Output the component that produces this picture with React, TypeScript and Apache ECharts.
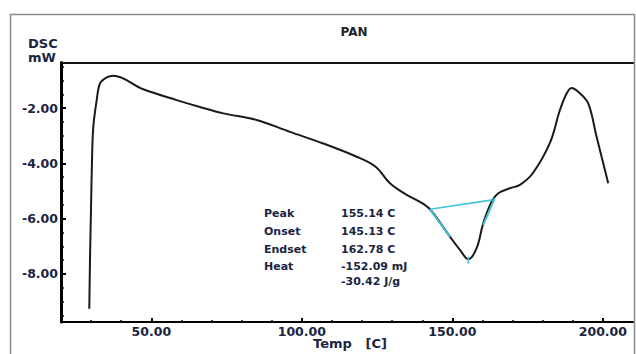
import React, { useEffect, useRef } from "react";
import * as echarts from "echarts";

// DSC curve: temperature [C] and heat flow [mW]
const tempC = [29.4, 29.63, 29.96, 30.3, 30.73, 31.86, 32.95, 35.18, 37.37, 47.33, 58.43, 66.16, 73.9, 84.99, 96.05, 107.11, 118.21, 124.5, 129.27, 134.81, 139.23, 142.55, 149.19, 152.51, 155.27, 158.06, 160.25, 163.04, 165.23, 169.12, 172.44, 176.76, 182.4, 185.73, 187.95, 189.61, 191.8, 195.12, 197.91, 201.77];
const dscMW = [-9.26, -7.49, -5.69, -3.88, -2.68, -1.71, -1.11, -0.89, -0.83, -1.32, -1.71, -1.96, -2.19, -2.43, -2.86, -3.28, -3.76, -4.12, -4.72, -5.14, -5.39, -5.66, -6.65, -7.13, -7.47, -7.07, -6.17, -5.39, -5.08, -4.9, -4.78, -4.35, -3.26, -2.07, -1.47, -1.27, -1.41, -1.83, -3.04, -4.72];

// analysis construction lines (cyan)
const baselineX = [142.55, 163.4];
const baselineY = [-5.66, -5.32];
const leftTangentX = [142.55, 149.19];
const leftTangentY = [-5.66, -6.66];
const rightTangentX = [160.25, 164.1];
const rightTangentY = [-6.23, -5.26];
const peakMarkX = [155.27, 155.27];
const peakMarkY = [-7.38, -7.62];

const xLabelValues = [50, 100, 150, 200];
const xMinorTicks = [30, 40, 60, 70, 80, 90, 110, 120, 130, 140, 160, 170, 180, 190];
const yLabelValues = [-8, -6, -4, -2];
const yMinorTicks = [-9.5, -9, -8.5, -7.5, -7, -6.5, -5.5, -5, -4.5, -3.5, -3, -2.5, -1.5, -1, -0.5];

const annLabels = ["Peak", "Onset", "Endset", "Heat"];
const annValues = ["155.14 C", "145.13 C", "162.78 C", "-152.09 mJ", "-30.42 J/g"];

const zip = (xs: number[], ys: number[]) => xs.map((x, i) => [x, ys[i]]);

const FONT = "DejaVu Sans";
const TXT = "#1b2440";

export default function App() {
  const ref = useRef<HTMLDivElement>(null);
  useEffect(() => {
    if (!ref.current) return;
    const chart = echarts.init(ref.current, undefined, { renderer: "svg" });
    const cyan = { color: "#45c3d6", width: 1.6 };
    const annText: any[] = [];
    annLabels.forEach((t, i) => {
      annText.push({ type: "text", left: 264, top: 208 + i * 17.8, style: { text: t, font: `bold 11px '${FONT}'`, fill: TXT } });
    });
    annValues.forEach((t, i) => {
      const top = i < 4 ? 208 + i * 17.8 : 208 + 3 * 17.8 + 14.5;
      annText.push({ type: "text", left: 341, top, style: { text: t, font: `bold 11px '${FONT}'`, fill: TXT } });
    });
    chart.setOption({
      animation: false,
      backgroundColor: "#fff",
      title: {
        text: "PAN",
        left: 349,
        top: 21,
        textAlign: "center",
        textStyle: { fontFamily: FONT, fontWeight: "bold", fontSize: 12, color: "#222" },
      },
      grid: { left: 61, right: 3, top: 62.5, bottom: 32, containLabel: false, outerBoundsMode: "none" },
      xAxis: [
        {
          type: "value",
          min: 20,
          max: 210,
          position: "bottom",
          axisLine: { show: true, lineStyle: { color: "#000", width: 2 } },
          axisTick: { show: true, inside: true, length: 2, customValues: xMinorTicks, lineStyle: { color: "#000", width: 1.5 } },
          axisLabel: {
            show: true,
            customValues: xLabelValues,
            formatter: (v: number) => v.toFixed(2),
            fontFamily: FONT,
            fontWeight: "bold",
            fontSize: 12.5,
            color: TXT,
            margin: 3,
          },
          splitLine: { show: false },
        },
        {
          type: "value",
          min: 20,
          max: 210,
          position: "bottom",
          axisLine: { show: false },
          axisTick: { show: true, inside: true, length: 4, customValues: xLabelValues, lineStyle: { color: "#000", width: 2 } },
          axisLabel: { show: false },
          splitLine: { show: false },
        },
        {
          type: "value",
          min: 20,
          max: 210,
          position: "top",
          axisLine: { show: true, lineStyle: { color: "#111", width: 2 } },
          axisTick: { show: false },
          axisLabel: { show: false },
          splitLine: { show: false },
        },
      ],
      yAxis: [
        {
          type: "value",
          min: -9.74,
          max: -0.35,
          position: "left",
          axisLine: { show: true, lineStyle: { color: "#000", width: 3 } },
          axisTick: { show: true, inside: true, length: 3, customValues: yMinorTicks, lineStyle: { color: "#000", width: 1.5 } },
          axisLabel: {
            show: true,
            customValues: yLabelValues,
            formatter: (v: number) => v.toFixed(2),
            fontFamily: FONT,
            fontWeight: "bold",
            fontSize: 12.5,
            color: TXT,
            margin: 3,
          },
          splitLine: { show: false },
        },
        {
          type: "value",
          min: -9.74,
          max: -0.35,
          position: "left",
          axisLine: { show: false },
          axisTick: { show: true, inside: true, length: 5, customValues: yLabelValues, lineStyle: { color: "#000", width: 2 } },
          axisLabel: { show: false },
          splitLine: { show: false },
        },
      ],
      graphic: [
        {
          type: "rect",
          shape: { x: 10.5, y: 14.5, width: 624, height: 400 },
          style: { fill: "none", stroke: "#8c8c8c", lineWidth: 1.5 },
          silent: true,
        },
        { type: "text", left: 28, top: 37, style: { text: "DSC", font: `bold 13px '${FONT}'`, fill: TXT } },
        { type: "text", left: 28, top: 51, style: { text: "mW", font: `bold 13px '${FONT}'`, fill: TXT } },
        { type: "text", x: 350, y: 343, style: { text: "Temp   [C]", font: `bold 13px '${FONT}'`, fill: TXT, align: "center", verticalAlign: "middle" } },
        ...annText,
      ],
      series: [
        {
          type: "line",
          data: zip(tempC, dscMW),
          smooth: 0.35,
          symbol: "none",
          lineStyle: { color: "#1a1a1a", width: 2 },
          z: 3,
        },
        { type: "line", data: zip(baselineX, baselineY), symbol: "none", lineStyle: cyan, z: 4 },
        { type: "line", data: zip(leftTangentX, leftTangentY), symbol: "none", lineStyle: { ...cyan, width: 2 }, z: 4 },
        { type: "line", data: zip(rightTangentX, rightTangentY), symbol: "none", lineStyle: { ...cyan, width: 2 }, z: 4 },
        { type: "line", data: zip(peakMarkX, peakMarkY), symbol: "none", lineStyle: cyan, z: 4 },
      ],
    });
    return () => chart.dispose();
  }, []);
  return <div ref={ref} style={{ position: "absolute", left: 0, top: 0, width: 636, height: 354 }} />;
}
